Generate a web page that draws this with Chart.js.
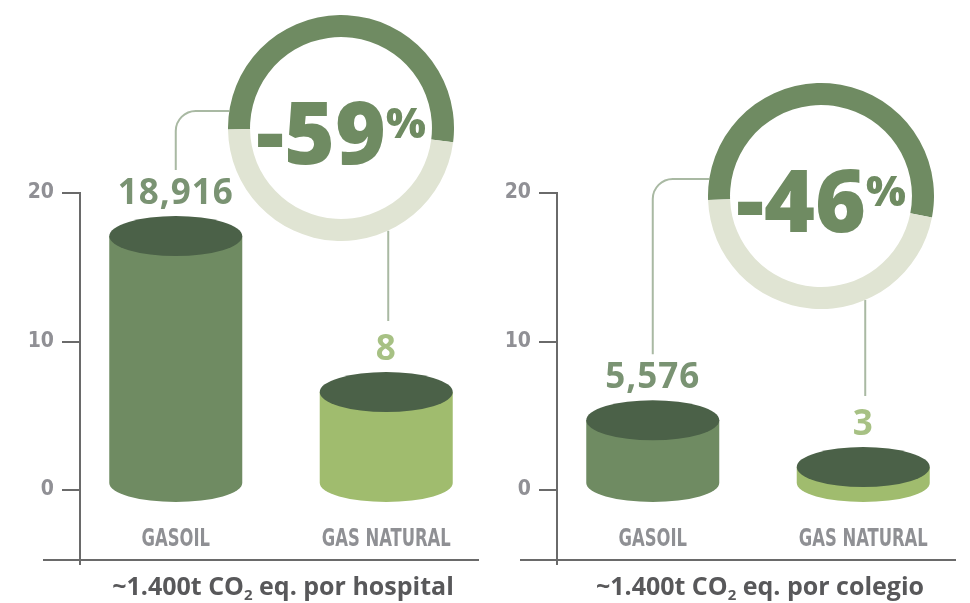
<!DOCTYPE html>
<html>
<head>
<meta charset="utf-8">
<script src="https://cdn.jsdelivr.net/npm/chart.js@4.4.0/dist/chart.umd.min.js"></script>
<style>
    html, body { margin: 0; padding: 0; background: #ffffff; }
    #wrap { position: relative; width: 970px; height: 603px; overflow: hidden; }
    canvas { position: absolute; }
</style>
</head>
<body>
<div id="wrap">
    <canvas id="barsHospital" width="485" height="603" style="left:0;top:0"></canvas>
    <canvas id="barsColegio" width="485" height="603" style="left:477px;top:0"></canvas>
    <canvas id="ringHospital" width="226" height="226"></canvas>
    <canvas id="ringColegio" width="226" height="226"></canvas>
</div>
<script>
// values
const categories = ['GASOIL', 'GAS NATURAL'];
const hospitalHeights = [17.1, 6.6];
const colegioHeights = [4.7, 1.55];
const hospitalLabels = ['18,916', '8'];
const colegioLabels = ['5,576', '3'];
const yTicks = [0, 10, 20];
const ringHospital = [52.2, 47.8];   // dark arc, light arc
const ringColegio = [53.6, 46.4];
const hospitalReduction = '-59';
const colegioReduction = '-46';
const hospitalTitle = ['~1.400t CO', '2', ' eq. por hospital'];
const colegioTitle = ['~1.400t CO', '2', ' eq. por colegio'];

// styles
const bodyColors = ['#6f8b62', '#a0bc6e'];
const topColor = '#4b6148';
const labelColors = ['#7a9373', '#a7c184'];
const axisColor = '#6a6a6a';
const connectorColor = '#a9b9a3';
const ringColors = ['#6f8b62', '#e0e4d3'];
const RING_R = 113;
const SANS = '"Open Sans", "Liberation Sans", sans-serif';
const GRAY_FONT = '"DejaVu Sans Condensed", "DejaVu Sans", sans-serif';

Chart.defaults.animation = false;
Chart.defaults.devicePixelRatio = 1;

const cylinderPlugin = {
    id: 'cylinders',
    afterDatasetsDraw(chart, args, opts) {
        const ctx = chart.ctx;
        const area = chart.chartArea;
        const bars = chart.getDatasetMeta(0).data;
        const ry = 20;

        // axis extensions (x axis runs a little left of the y axis)
        ctx.save();
        ctx.strokeStyle = axisColor;
        ctx.lineWidth = 2;
        ctx.beginPath();
        ctx.moveTo(area.left - 37, area.bottom);
        ctx.lineTo(area.left, area.bottom);
        ctx.moveTo(area.left, area.bottom);
        ctx.lineTo(area.left, area.bottom + 5);
        ctx.stroke();
        ctx.restore();

        const labelTops = [];
        bars.forEach((bar, i) => {
            const rx = bar.width / 2;
            const top = bar.y;
            const base = bar.base - 6;
            ctx.save();
            ctx.fillStyle = bodyColors[i];
            ctx.beginPath();
            ctx.moveTo(bar.x - rx, top);
            ctx.lineTo(bar.x - rx, base);
            ctx.ellipse(bar.x, base, rx, ry - 1, 0, Math.PI, 0, true);
            ctx.lineTo(bar.x + rx, top);
            ctx.closePath();
            ctx.fill();
            ctx.fillStyle = topColor;
            ctx.beginPath();
            ctx.ellipse(bar.x, top, rx, ry, 0, 0, Math.PI * 2);
            ctx.fill();

            // value label
            const baseline = top - ry - 12;
            ctx.font = 'bold 35px ' + SANS;
            ctx.fillStyle = labelColors[i];
            ctx.textAlign = 'center';
            ctx.textBaseline = 'alphabetic';
            ctx.letterSpacing = '1px';
            ctx.fillText(opts.labels[i], bar.x, baseline);
            ctx.letterSpacing = '0px';
            labelTops.push(baseline - 25);

            // category label, condensed
            ctx.font = 'bold 24px ' + GRAY_FONT;
            ctx.fillStyle = '#8f9094';
            ctx.translate(bar.x, area.bottom - 14);
            ctx.scale(0.76, 1);
            ctx.fillText(categories[i], 0, 0);
            ctx.restore();
        });

        // connectors to the ring
        const cx = opts.ring.cx - opts.canvasLeft;
        const cy = opts.ring.cy;
        const dy = -17;
        const r = 20;
        ctx.save();
        ctx.strokeStyle = connectorColor;
        ctx.lineWidth = 2;
        ctx.beginPath();
        const x0 = bars[0].x;
        ctx.moveTo(cx - Math.sqrt(RING_R * RING_R - dy * dy), cy + dy);
        ctx.lineTo(x0 + r, cy + dy);
        ctx.arcTo(x0, cy + dy, x0, cy + dy + r, r);
        ctx.lineTo(x0, labelTops[0] - 9);
        const x1 = bars[1].x + 2;
        ctx.moveTo(x1, cy + Math.sqrt(RING_R * RING_R - (x1 - cx) * (x1 - cx)));
        ctx.lineTo(x1, labelTops[1] - 14);
        ctx.stroke();
        ctx.restore();

        // title with subscript
        const parts = opts.title;
        ctx.save();
        ctx.fillStyle = '#58585a';
        ctx.textAlign = 'left';
        ctx.textBaseline = 'alphabetic';
        const bigFont = 'bold 25px ' + SANS;
        const subFont = 'bold 15px ' + SANS;
        ctx.font = bigFont;
        const w0 = ctx.measureText(parts[0]).width;
        const w2 = ctx.measureText(parts[2]).width;
        ctx.font = subFont;
        const w1 = ctx.measureText(parts[1]).width;
        let x = (area.left + area.right) / 2 + 4 - (w0 + w1 + w2) / 2;
        const y = 595;
        ctx.font = bigFont;
        ctx.fillText(parts[0], x, y);
        x += w0;
        ctx.font = subFont;
        ctx.fillText(parts[1], x, y + 5);
        x += w1;
        ctx.font = bigFont;
        ctx.fillText(parts[2], x, y);
        ctx.restore();
    }
};

const ringTextPlugin = {
    id: 'ringText',
    afterDraw(chart, args, opts) {
        const ctx = chart.ctx;
        const a = chart.chartArea;
        const cx = (a.left + a.right) / 2;
        const cy = (a.top + a.bottom) / 2;
        ctx.save();
        ctx.fillStyle = ringColors[0];
        ctx.textAlign = 'left';
        ctx.textBaseline = 'alphabetic';
        const big = '800 87px ' + SANS;
        const small = '800 42px ' + SANS;
        ctx.font = big;
        const wBig = ctx.measureText(opts.text).width;
        ctx.font = small;
        const wPct = ctx.measureText('%').width;
        let x = cx - (wBig + wPct) / 2;
        ctx.font = big;
        ctx.fillText(opts.text, x, cy + 36);
        ctx.font = small;
        ctx.fillText('%', x + wBig, cy + 10);
        ctx.restore();
    }
};

function makeBars(id, heights, labels, title, ring, canvasLeft) {
    return new Chart(document.getElementById(id), {
        type: 'bar',
        data: {
            datasets: [{
                data: categories.map((c, i) => ({ x: i, y: heights[i] })),
                backgroundColor: 'rgba(0,0,0,0)',
                borderWidth: 0,
                barThickness: 133
            }]
        },
        options: {
            responsive: false,
            events: [],
            layout: { padding: { top: 193, right: 7, bottom: 43, left: 0 } },
            plugins: {
                legend: { display: false },
                tooltip: { enabled: false },
                cylinders: { labels: labels, title: title, ring: ring, canvasLeft: canvasLeft }
            },
            scales: {
                x: {
                    type: 'linear',
                    offset: false,
                    min: -0.455,
                    max: 1.436,
                    afterFit: s => { s.height = 0; },
                    ticks: { display: false },
                    grid: { display: false },
                    border: { display: true, color: axisColor, width: 2 }
                },
                y: {
                    min: -4.71,
                    max: 20,
                    afterBuildTicks: s => { s.ticks = yTicks.map(v => ({ value: v })); },
                    afterFit: s => { s.width = 80; },
                    border: { display: true, color: axisColor, width: 2 },
                    grid: { drawOnChartArea: false, drawTicks: true, tickLength: 18, color: axisColor, lineWidth: 2 },
                    ticks: {
                        padding: 8,
                        color: '#909095',
                        font: { family: GRAY_FONT, weight: 'bold', size: 21 }
                    }
                }
            }
        },
        plugins: [cylinderPlugin]
    });
}

function makeRing(id, values, text, ring) {
    const el = document.getElementById(id);
    el.style.left = (ring.cx - RING_R) + 'px';
    el.style.top = (ring.cy - RING_R) + 'px';
    return new Chart(el, {
        type: 'doughnut',
        data: {
            datasets: [{
                data: values,
                backgroundColor: ringColors,
                borderWidth: 0
            }]
        },
        options: {
            responsive: false,
            events: [],
            cutout: '80.5%',
            rotation: ring.rotation,
            layout: { padding: 0 },
            plugins: {
                legend: { display: false },
                tooltip: { enabled: false },
                ringText: { text: text }
            }
        },
        plugins: [ringTextPlugin]
    });
}

const hospitalRing = { cx: 341, cy: 128, rotation: 269.3 };
const colegioRing = { cx: 821, cy: 196, rotation: 268 };

makeBars('barsHospital', hospitalHeights, hospitalLabels, hospitalTitle, hospitalRing, 0);
makeBars('barsColegio', colegioHeights, colegioLabels, colegioTitle, colegioRing, 477);
makeRing('ringHospital', ringHospital, hospitalReduction, hospitalRing);
makeRing('ringColegio', ringColegio, colegioReduction, colegioRing);
</script>
</body>
</html>
